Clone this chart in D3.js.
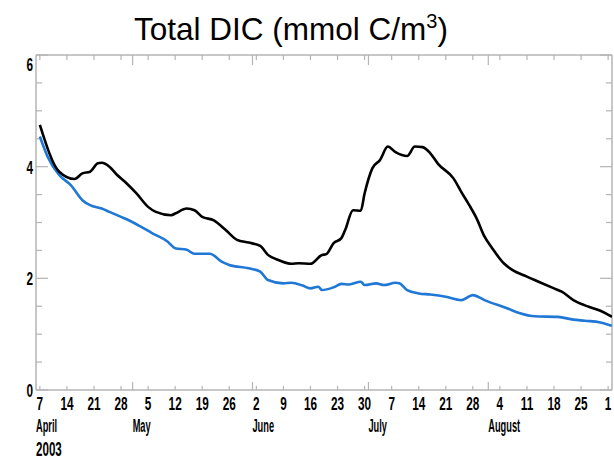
<!DOCTYPE html>
<html>
<head>
<meta charset="utf-8">
<script src="https://cdn.jsdelivr.net/npm/d3@7"></script>
<style>
  html, body { margin: 0; padding: 0; background: #fff; }
  svg { display: block; }
</style>
</head>
<body>
<svg id="chart" width="614" height="460"></svg>
<script>
// Upper (black) series: total DIC, 2003
const upperDates = ["2003-04-07","2003-04-12","2003-04-16","2003-04-18","2003-04-20","2003-04-22","2003-04-23","2003-04-25","2003-04-27","2003-04-29",
  "2003-05-02","2003-05-05","2003-05-07","2003-05-11","2003-05-12","2003-05-15","2003-05-17","2003-05-19","2003-05-22","2003-05-25","2003-05-28","2003-05-31",
  "2003-06-03","2003-06-05","2003-06-08","2003-06-11","2003-06-13","2003-06-16","2003-06-19","2003-06-20","2003-06-22","2003-06-24","2003-06-25","2003-06-27","2003-06-29","2003-06-30",
  "2003-07-02","2003-07-04","2003-07-06","2003-07-08","2003-07-11","2003-07-13","2003-07-15","2003-07-17","2003-07-19","2003-07-23","2003-07-25","2003-07-27","2003-07-29","2003-07-31",
  "2003-08-02","2003-08-05","2003-08-07","2003-08-11","2003-08-14","2003-08-18","2003-08-20","2003-08-23","2003-08-27","2003-08-30","2003-09-02"];
const upperValues = [4.75,3.91,3.78,3.88,3.91,4.06,4.07,4.00,3.85,3.73,
  3.52,3.28,3.19,3.13,3.16,3.25,3.22,3.10,3.04,2.87,2.69,2.64,
  2.58,2.42,2.32,2.26,2.27,2.26,2.42,2.43,2.63,2.72,2.87,3.22,3.21,3.52,
  3.97,4.12,4.36,4.26,4.19,4.36,4.35,4.24,4.05,3.79,3.55,3.32,3.07,2.75,
  2.54,2.27,2.16,2.03,1.94,1.82,1.76,1.61,1.49,1.42,1.31];

// Lower (blue) series
const lowerDates = ["2003-04-07","2003-04-09","2003-04-12","2003-04-15","2003-04-18","2003-04-20","2003-04-23","2003-04-25","2003-04-28","2003-04-30",
  "2003-05-03","2003-05-06","2003-05-10","2003-05-12","2003-05-15","2003-05-17","2003-05-21","2003-05-24","2003-05-26","2003-05-31",
  "2003-06-03","2003-06-05","2003-06-09","2003-06-11","2003-06-14","2003-06-16","2003-06-18","2003-06-19","2003-06-22","2003-06-24","2003-06-26","2003-06-29","2003-06-30",
  "2003-07-03","2003-07-05","2003-07-08","2003-07-09","2003-07-11","2003-07-14","2003-07-17","2003-07-21","2003-07-25","2003-07-28","2003-07-31",
  "2003-08-06","2003-08-09","2003-08-13","2003-08-19","2003-08-23","2003-08-26","2003-08-30","2003-09-02"];
const lowerValues = [4.54,4.18,3.85,3.67,3.40,3.31,3.25,3.19,3.10,3.04,
  2.93,2.81,2.66,2.54,2.51,2.44,2.44,2.30,2.24,2.18,
  2.12,1.97,1.91,1.92,1.87,1.82,1.85,1.79,1.84,1.90,1.89,1.94,1.88,
  1.91,1.88,1.92,1.91,1.79,1.73,1.71,1.67,1.61,1.70,1.61,
  1.46,1.38,1.32,1.31,1.26,1.24,1.21,1.15];

// Axis labels
const titleText = "Total DIC (mmol C/m";
const titleSup = "3";
const yTickLabels = [0, 2, 4, 6];
const monthNames = ["April", "May", "June", "July", "August"];
const monthStarts = ["2003-04-06", "2003-05-01", "2003-06-01", "2003-07-01", "2003-08-01"];
const yearLabel = "2003";

const parse = d3.utcParse("%Y-%m-%d");
const svg = d3.select("#chart");

const plot = { left: 36, right: 612, top: 55, bottom: 390 };
const x = d3.scaleUtc()
  .domain([parse("2003-04-06"), parse("2003-09-02")])
  .range([plot.left, plot.right]);
const y = d3.scaleLinear().domain([0, 6]).range([plot.bottom, plot.top]);

const axisColor = "#b4b4b4";
const weekTicks = d3.utcMonday.range(parse("2003-04-07"), parse("2003-09-02"));
const monthTicks = monthStarts.slice(1).map(parse);
const yMinor = d3.range(0, 6.01, 0.5);

// Title
const title = svg.append("text")
  .attr("x", 291).attr("y", 40)
  .attr("text-anchor", "middle")
  .style("font-family", "'Liberation Sans', Arial, sans-serif")
  .style("font-size", "31.5px")
  .attr("fill", "#000");
title.append("tspan").text(titleText);
title.append("tspan").attr("dy", -12).style("font-size", "20px").text(titleSup);
title.append("tspan").attr("dy", 12).text(")");

// Frame lines
const frame = svg.append("g").attr("stroke", axisColor).attr("stroke-width", 1.5).attr("fill", "none");
frame.append("line").attr("x1", plot.left).attr("x2", plot.right).attr("y1", plot.top).attr("y2", plot.top);
frame.append("line").attr("x1", plot.left).attr("x2", plot.right).attr("y1", plot.bottom).attr("y2", plot.bottom);
frame.append("line").attr("x1", plot.left).attr("x2", plot.left).attr("y1", plot.top).attr("y2", plot.bottom);
frame.append("line").attr("x1", plot.right).attr("x2", plot.right).attr("y1", plot.top).attr("y2", plot.bottom);

// Week ticks (top & bottom), month ticks longer, value ticks on both sides
const tickG = svg.append("g").attr("stroke", axisColor).attr("stroke-width", 1.2);
weekTicks.forEach(d => {
  tickG.append("line").attr("x1", x(d)).attr("x2", x(d)).attr("y1", plot.bottom).attr("y2", plot.bottom - 4);
  tickG.append("line").attr("x1", x(d)).attr("x2", x(d)).attr("y1", plot.top).attr("y2", plot.top + 5);
});
monthTicks.forEach(d => {
  tickG.append("line").attr("x1", x(d)).attr("x2", x(d)).attr("y1", plot.bottom).attr("y2", plot.bottom - 8);
  tickG.append("line").attr("x1", x(d)).attr("x2", x(d)).attr("y1", plot.top).attr("y2", plot.top + 10);
});
yMinor.forEach(v => {
  const len = (v % 2 === 0) ? 12 : 6;
  tickG.append("line").attr("x1", plot.left).attr("x2", plot.left + len).attr("y1", y(v)).attr("y2", y(v));
  tickG.append("line").attr("x1", plot.right).attr("x2", plot.right - len).attr("y1", y(v)).attr("y2", y(v));
});

const labelFont = "'Liberation Sans', Arial, sans-serif";

// Day-of-month labels
svg.append("g").selectAll("text").data(weekTicks).join("text")
  .attr("transform", d => `translate(${x(d)},410) scale(0.62,1)`)
  .attr("text-anchor", "middle")
  .style("font-family", labelFont).style("font-weight", "bold").style("font-size", "19px")
  .text(d => d.getUTCDate());

// Month labels
svg.append("g").selectAll("text").data(monthNames).join("text")
  .attr("transform", (d, i) => `translate(${x(parse(monthStarts[i]))},432) scale(0.5,1)`)
  .style("font-family", labelFont).style("font-weight", "bold").style("font-size", "18.5px")
  .text(d => d);

svg.append("text")
  .attr("transform", `translate(${plot.left},456) scale(0.58,1)`)
  .style("font-family", labelFont).style("font-weight", "bold").style("font-size", "20px")
  .text(yearLabel);

// Value labels
svg.append("g").selectAll("text").data(yTickLabels).join("text")
  .attr("transform", d => `translate(33,${d === 6 ? y(d) + 16 : y(d) + 7}) scale(0.62,1)`)
  .attr("text-anchor", "end")
  .style("font-family", labelFont).style("font-weight", "bold").style("font-size", "19px")
  .text(d => d);

// Series lines
svg.append("clipPath").attr("id", "plotClip").append("rect")
  .attr("x", plot.left).attr("y", plot.top).attr("width", plot.right - plot.left).attr("height", plot.bottom - plot.top);

const line = d3.line().curve(d3.curveMonotoneX).x(d => x(d[0])).y(d => y(d[1]));
const lines = svg.append("g").attr("clip-path", "url(#plotClip)").attr("fill", "none")
  .attr("stroke-width", 2.6).attr("stroke-linejoin", "round");

lines.append("path")
  .attr("d", line(lowerDates.map((d, i) => [parse(d), lowerValues[i]])))
  .attr("stroke", "#1f77d6");
lines.append("path")
  .attr("d", line(upperDates.map((d, i) => [parse(d), upperValues[i]])))
  .attr("stroke", "#000");
</script>
</body>
</html>
